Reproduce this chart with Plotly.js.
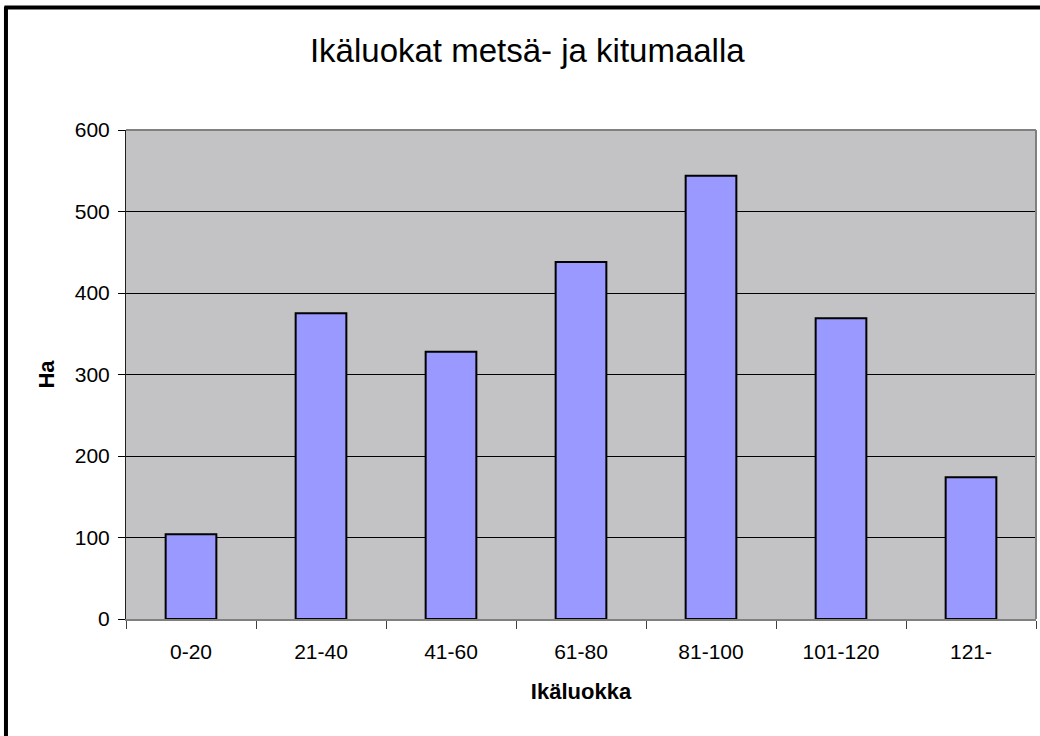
<!DOCTYPE html>
<html><head><meta charset="utf-8">
<script src="https://cdn.plot.ly/plotly-3.0.1.min.js"></script>
<style>html,body{margin:0;padding:0;background:#fff;}#c{width:1040px;height:736px;}</style>
</head><body><div id="c"></div>
<script>
const categories = ["0-20","21-40","41-60","61-80","81-100","101-120","121-"];
const hectares = [104, 375, 328, 438, 544, 369, 174];
const yTicks = [0,100,200,300,400,500,600];

const trace = {
  type: "bar", x: categories, y: hectares,
  marker: {color: "#9999FF", line: {color: "#000000", width: 2}},
  hoverinfo: "x+y"
};
const layout = {
  width: 1040, height: 736,
  margin: {l: 126, r: 4, t: 130, b: 117},
  paper_bgcolor: "#ffffff", plot_bgcolor: "#C3C2C5",
  font: {family: "Liberation Sans, Arial, sans-serif", color: "#000", size: 21},
  title: {text: "Ikäluokat metsä- ja kitumaalla", font: {size: 33}, x: 0.507, xref: "container", xanchor: "center", y: 0.932, yanchor: "middle"},
  bargap: 0.61,
  showlegend: false,
  xaxis: {type: "category", tickson: "boundaries", ticks: "outside", ticklen: 8, tickcolor: "#404040",
    showline: true, linecolor: "#808080", linewidth: 2, showgrid: false, ticklabelstandoff: 13,
    title: {text: "<b>Ikäluokka</b>", font: {size: 22}, standoff: 21}, tickfont: {size: 21}},
  yaxis: {range: [0, 600], tickvals: yTicks, ticks: "outside", ticklen: 7, tickcolor: "#000",
    showline: true, linecolor: "#202020", linewidth: 1, showgrid: true, gridcolor: "#000000", gridwidth: 1,
    ticklabelstandoff: 4,
    zeroline: false, title: {text: "<b>Ha</b>", font: {size: 22}, standoff: 14}, tickfont: {size: 21}},
  shapes: [
    {type: "line", xref: "paper", yref: "paper", x0: 0, x1: 1, y0: 1, y1: 1, line: {color: "#808080", width: 2}},
    {type: "line", xref: "paper", yref: "paper", x0: 1, x1: 1, y0: 0, y1: 1, line: {color: "#808080", width: 2}},
    {type: "line", xref: "paper", yref: "paper", x0: -0.1335, x1: 1.05, y0: 1.2505, y1: 1.2505, line: {color: "#000", width: 4}},
    {type: "line", xref: "paper", yref: "paper", x0: -0.1319, x1: -0.1319, y0: -0.3, y1: 1.2525, line: {color: "#000", width: 4}}
  ]
};
Plotly.newPlot("c", [trace], layout, {displayModeBar: false, staticPlot: true});
</script></body></html>
